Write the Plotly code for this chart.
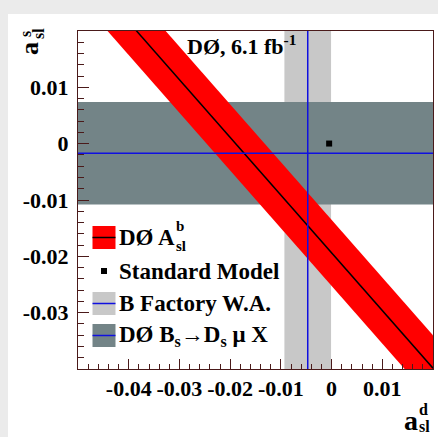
import plotly.graph_objects as go

# ---------------- data ----------------
x_range = [-0.05, 0.02]
y_range = [-0.04, 0.02]
x_tickvals = [-0.04, -0.03, -0.02, -0.01, 0.0, 0.01]
x_ticktext = ["-0.04", "-0.03", "-0.02", "-0.01", "0", "0.01"]
y_tickvals = [-0.03, -0.02, -0.01, 0.0, 0.01]
y_ticktext = ["-0.03", "-0.02", "-0.01", "0", "0.01"]

# DØ A_sl^b = coef_d * a_sl^d + coef_s * a_sl^s
asl_b = -0.00957
asl_b_err = 0.0029
coef_d = 0.506
coef_s = 0.494

# B factory world average of a_sl^d
bf_ad = -0.0047
bf_ad_err = 0.0046

# DØ Bs -> Ds mu X measurement of a_sl^s
ds_as = -0.0017
ds_as_err = 0.0091

# Standard Model expectation
sm_ad = [-0.00048]
sm_as = [0.00002]

legend_labels = ["DØ A", "Standard Model", "B Factory W.A.", "DØ B<sub>s</sub>→D<sub>s</sub> μ X"]

# ---------------- styling ----------------
FONT = "Liberation Serif"
RED = "#ff0000"
LIGHT = "#c8c8c8"
DARK = "#738487"
BLUE = "#1010e0"
FRAME = "#4a1a1a"

W, H = 438, 437
L, R, T, B = 78, 433, 31, 369


def px(x):
    return (x - L) / (R - L)


def py(y):
    return (B - y) / (B - T)


def band_center(x):
    return (asl_b - coef_d * x) / coef_s


half = asl_b_err / coef_s
xe = x_range
band_x = [xe[0], xe[1], xe[1], xe[0], xe[0]]
band_y = [band_center(xe[0]) + half, band_center(xe[1]) + half,
          band_center(xe[1]) - half, band_center(xe[0]) - half,
          band_center(xe[0]) + half]

fig = go.Figure()
fig.add_trace(go.Scatter(x=band_x, y=band_y, fill="toself", fillcolor=RED,
                         mode="lines", line=dict(width=0, color=RED),
                         hoverinfo="skip", showlegend=False))
fig.add_trace(go.Scatter(x=xe, y=[band_center(v) for v in xe], mode="lines",
                         line=dict(color="black", width=1.5),
                         hoverinfo="skip", showlegend=False))
fig.add_trace(go.Scatter(x=sm_ad, y=sm_as, mode="markers",
                         marker=dict(symbol="square", size=6, color="black"),
                         showlegend=False))

shapes = []
# white panel on grey page background
shapes.append(dict(type="rect", xref="paper", yref="paper", x0=px(8), x1=px(460),
                   y0=py(460), y1=py(14), fillcolor="white", line=dict(width=0),
                   layer="below"))
# B factory band
shapes.append(dict(type="rect", xref="x", yref="y", x0=bf_ad - bf_ad_err,
                   x1=bf_ad + bf_ad_err, y0=y_range[0], y1=y_range[1],
                   fillcolor=LIGHT, line=dict(width=0), layer="below"))
# Ds mu X band
shapes.append(dict(type="rect", xref="x", yref="y", x0=x_range[0], x1=x_range[1],
                   y0=ds_as - ds_as_err, y1=ds_as + ds_as_err,
                   fillcolor=DARK, line=dict(width=0), layer="below"))
# central values (blue lines)
shapes.append(dict(type="line", xref="x", yref="y", x0=bf_ad, x1=bf_ad,
                   y0=y_range[0], y1=y_range[1], line=dict(color=BLUE, width=1.5),
                   layer="above"))
shapes.append(dict(type="line", xref="x", yref="y", x0=x_range[0], x1=x_range[1],
                   y0=ds_as, y1=ds_as, line=dict(color=BLUE, width=1.5),
                   layer="above"))

# legend symbols
bx0, bx1 = 92.5, 115.5
rows = [237.5, 271, 303.5, 335.5]
bh = 11.5
shapes.append(dict(type="rect", xref="paper", yref="paper", x0=px(bx0), x1=px(bx1),
                   y0=py(rows[0] + bh), y1=py(rows[0] - bh), fillcolor=RED,
                   line=dict(width=0), layer="above"))
shapes.append(dict(type="line", xref="paper", yref="paper", x0=px(bx0), x1=px(bx1),
                   y0=py(rows[0]), y1=py(rows[0]), line=dict(color="black", width=1.5),
                   layer="above"))
shapes.append(dict(type="rect", xref="paper", yref="paper", x0=px(101), x1=px(107),
                   y0=py(rows[1] + 3), y1=py(rows[1] - 3), fillcolor="black",
                   line=dict(width=0), layer="above"))
for r, col in ((rows[2], LIGHT), (rows[3], DARK)):
    shapes.append(dict(type="rect", xref="paper", yref="paper", x0=px(bx0), x1=px(bx1),
                       y0=py(r + bh), y1=py(r - bh), fillcolor=col,
                       line=dict(width=0), layer="above"))
    shapes.append(dict(type="line", xref="paper", yref="paper", x0=px(bx0), x1=px(bx1),
                       y0=py(r), y1=py(r), line=dict(color=BLUE, width=1.5),
                       layer="above"))

annotations = []


def txt(text, x, y, size, xanchor="left", yanchor="middle", angle=0):
    annotations.append(dict(text="<b>" + text + "</b>", x=px(x), y=py(y),
                            xref="paper", yref="paper", xanchor=xanchor,
                            yanchor=yanchor, showarrow=False, textangle=angle,
                            borderpad=0,
                            font=dict(family=FONT, size=size, color="black")))


for lab, r in zip(legend_labels, rows):
    txt(lab, 118, r, 23)
txt("b", 175, 226, 15)
txt("sl", 175, 246, 15)

# top label
txt("DØ, 6.1 fb<sup>-1</sup>", 186, 45, 22)

# x-axis title
txt("a", 419, 421, 28, xanchor="right")
txt("d", 418, 409, 16)
txt("sl", 418, 426, 16)
# y-axis title (rotated)
txt("a", 29, 48, 26, xanchor="center", angle=-90)
txt("s", 25, 34, 16, xanchor="center", angle=-90)
txt("sl", 38, 34, 16, xanchor="center", angle=-90)

tickfont = dict(family=FONT, size=22, color="black", weight="bold")

fig.update_layout(
    width=W, height=H,
    margin=dict(l=L, r=W - R, t=T, b=H - B, pad=0),
    paper_bgcolor="#ebebeb", plot_bgcolor="white",
    shapes=shapes, annotations=annotations, showlegend=False,
    xaxis=dict(range=x_range, tickmode="array", tickvals=x_tickvals,
               ticktext=x_ticktext, ticks="inside", ticklen=10, tickwidth=1,
               tickcolor=FRAME, showline=True, linecolor=FRAME, linewidth=1,
               mirror=True, showgrid=False, zeroline=False, tickfont=tickfont,
               ticklabelstandoff=0,
               minor=dict(tick0=0, dtick=0.002, ticks="inside", ticklen=5,
                          tickcolor=FRAME, showgrid=False)),
    yaxis=dict(range=y_range, tickmode="array", tickvals=y_tickvals,
               ticktext=y_ticktext, ticks="inside", ticklen=11, tickwidth=1,
               tickcolor=FRAME, showline=True, linecolor=FRAME, linewidth=1,
               mirror=True, showgrid=False, zeroline=False, tickfont=tickfont,
               ticklabelstandoff=4,
               minor=dict(tick0=0, dtick=0.002, ticks="inside", ticklen=6,
                          tickcolor=FRAME, showgrid=False)),
)

fig.write_html("out.html")
